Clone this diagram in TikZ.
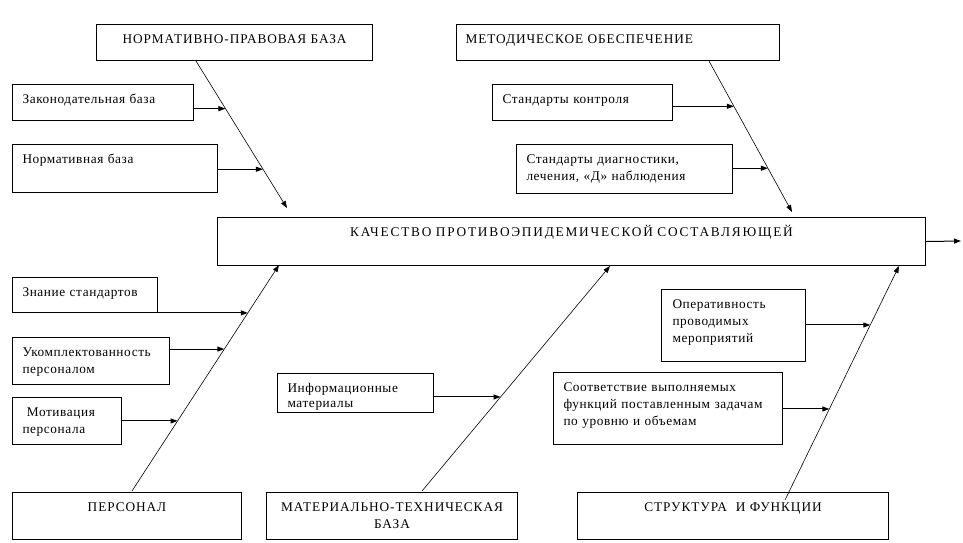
\documentclass[tikz,border=0pt]{standalone}
\usepackage{fontspec}
\setmainfont{Liberation Serif}[LetterSpace=4.5]
\newfontfamily\capsfont{Liberation Serif}[LetterSpace=7]
\newfontfamily\titlefont{Liberation Serif}[LetterSpace=13.5]
\usetikzlibrary{arrows.meta}

\begin{document}
\begin{tikzpicture}[x=1pt,y=-1pt,>={Triangle[length=7pt,width=5pt]},
  font=\fontsize{13.3}{17}\selectfont,
  cell/.style={draw,line width=1pt,anchor=north west,inner xsep=10pt,inner ysep=0pt,align=left,text height=19pt},
  head/.style={cell,font=\fontsize{13.3}{17}\capsfont},
  bone/.style={line width=0.6pt},
  twig/.style={line width=1pt}]
\useasboundingbox (0,0) rectangle (963,542);
% boxes
\node[head,align=center,text width=256pt,text depth=17pt] (npb) at (96,24) {НОРМАТИВНО-ПРАВОВАЯ БАЗА};
\node[head,inner xsep=9pt,text width=305pt,text depth=17pt] (met) at (456,24) {МЕТОДИЧЕСКОЕ ОБЕСПЕЧЕНИЕ};
\node[cell,text width=161pt,text depth=17pt] (zak) at (12,84) {Законодательная база};
\node[cell,text width=185pt,text depth=29pt] (norm) at (12,144) {Нормативная база};
\node[cell,text width=160pt,text depth=17pt] (kontr) at (492,84) {Стандарты контроля};
\node[cell,text width=196pt,text depth=30pt] (diag) at (516,144) {Стандарты диагностики,\\лечения, «Д» наблюдения};
\node[head,font=\fontsize{13.3}{17}\titlefont,align=center,text width=688pt,text depth=29pt] (main) at (217,217) {КАЧЕСТВО ПРОТИВОЭПИДЕМИЧЕСКОЙ СОСТАВЛЯЮЩЕЙ};
\node[cell,text width=125pt,text depth=16pt] (znan) at (12,277) {Знание стандартов};
\node[cell,text width=137pt,text depth=28pt] (ukom) at (12,337) {Укомплектованность\\персоналом};
\node[cell,text width=89pt,text depth=28pt] (motiv) at (12,397) {\ Мотивация\\персонала};
\node[cell,text width=136pt,text depth=20pt] (info) at (277,373) {Информационные\\[-2pt]материалы};
\node[cell,inner xsep=11pt,text width=122pt,text depth=53pt] (oper) at (661,289) {Оперативность\\проводимых\\мероприятий};
\node[cell,text width=209pt,text depth=53pt] (sootv) at (553,372) {Соответствие выполняемых\\функций поставленным задачам\\по уровню и объемам};
\node[head,align=center,text width=209pt,text depth=28pt] (pers) at (12,492) {ПЕРСОНАЛ};
\node[head,align=center,text width=231pt,text depth=28pt] (mtb) at (266,492) {МАТЕРИАЛЬНО-ТЕХНИЧЕСКАЯ\\БАЗА};
\node[head,align=center,text width=291pt,text depth=28pt] (struct) at (577,492) {СТРУКТУРА\ \ И ФУНКЦИИ};
% bones
\coordinate (np0) at ([xshift=100pt]npb.south west);
\coordinate (np1) at (287,208);
\coordinate (me0) at ([xshift=253pt]met.south west);
\coordinate (me1) at (792,212);
\coordinate (pe0) at ([xshift=120pt,yshift=1pt]pers.north west);
\coordinate (pe1) at (279,265);
\coordinate (mt0) at ([xshift=156pt,yshift=1pt]mtb.north west);
\coordinate (mt1) at (610,266);
\coordinate (st0) at ([xshift=208pt,yshift=-8pt]struct.north west);
\coordinate (st1) at (899,266);
\coordinate (out) at (961,241);
\draw[bone,->] (np0) -- (np1);
\draw[bone,->] (me0) -- (me1);
\draw[bone,->] (pe0) -- (pe1);
\draw[bone,->] (mt0) -- (mt1);
\draw[bone,->] (st0) -- (st1);
\draw[twig,->] (main.east) -- (out);
% points on the bones
\path (np0) -- (np1) coordinate[pos=0.324] (npz) coordinate[pos=0.736] (npn);
\path (me0) -- (me1) coordinate[pos=0.30] (mek) coordinate[pos=0.71] (med);
\path (pe0) -- (pe1) coordinate[pos=0.788] (pez) coordinate[pos=0.628] (peu) coordinate[pos=0.31] (pem);
\path (mt0) -- (mt1) coordinate[pos=0.418] (mti);
\path (st0) -- (st1) coordinate[pos=0.748] (sto) coordinate[pos=0.389] (sts);
% twigs
\draw[twig,->] (zak.east |- npz) -- (npz);
\draw[twig,->] (norm.east |- npn) -- (npn);
\draw[twig,->] (kontr.east |- mek) -- (mek);
\draw[twig,->] (diag.east |- med) -- (med);
\draw[twig,->] (znan.east |- pez) -- (pez);
\draw[twig,->] (ukom.east |- peu) -- (peu);
\draw[twig,->] (motiv.east |- pem) -- (pem);
\draw[twig,->] (info.east |- mti) -- (mti);
\draw[twig,->] (oper.east |- sto) -- (sto);
\draw[twig,->] (sootv.east |- sts) -- (sts);
\end{tikzpicture}
\end{document}
